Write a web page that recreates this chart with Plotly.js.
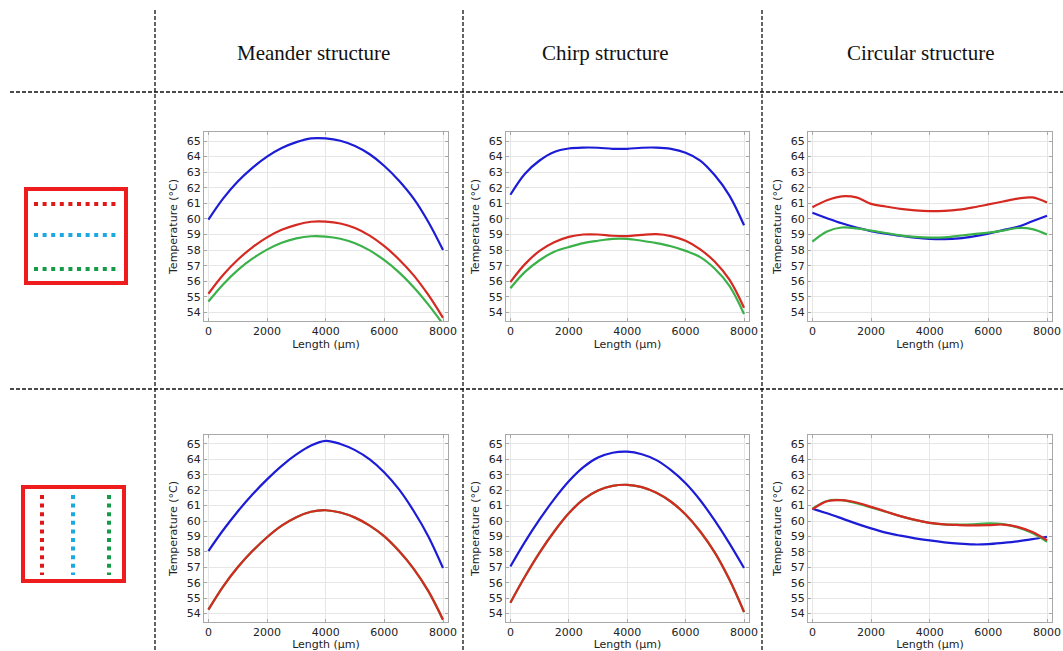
<!DOCTYPE html>
<html>
<head>
<meta charset="utf-8">
<script src="https://cdn.plot.ly/plotly-3.0.1.min.js"></script>
<style>
html,body{margin:0;padding:0;background:#fff;}
#chart{width:1063px;height:651px;}
</style>
</head>
<body>
<div id="chart"></div>
<script>
// ---- Data ----
const LENGTH_UM = [0,500,1000,1500,2000,2500,3000,3500,4000,4500,5000,5500,6000,6500,7000,7500,8000];

const COLUMN_TITLES = ["Meander structure", "Chirp structure", "Circular structure"];
const X_TICKS = [0, 2000, 4000, 6000, 8000];
const Y_TICKS = [54,55,56,57,58,59,60,61,62,63,64,65];

// Row 1: horizontal heater lines (red / blue / green)
const meanderH_blue  = [59.95,61.3,62.4,63.28,64.0,64.55,64.93,65.17,65.17,65.02,64.68,64.15,63.4,62.45,61.3,59.8,58.0];
const meanderH_red   = [55.2,56.4,57.38,58.18,58.82,59.3,59.62,59.82,59.83,59.71,59.42,58.93,58.25,57.4,56.38,55.12,53.65];
const meanderH_green = [54.7,55.8,56.72,57.45,58.03,58.47,58.75,58.89,58.87,58.73,58.44,57.98,57.35,56.57,55.62,54.5,53.25];

const chirpH_blue  = [61.55,62.9,63.75,64.3,64.52,64.58,64.57,64.5,64.5,64.57,64.58,64.5,64.25,63.75,62.8,61.5,59.6];
const chirpH_red   = [55.95,57.1,57.95,58.5,58.85,59.0,59.0,58.92,58.9,58.98,59.02,58.9,58.6,58.05,57.25,56.1,54.3];
const chirpH_green = [55.55,56.6,57.35,57.9,58.2,58.45,58.6,58.72,58.72,58.6,58.45,58.25,57.95,57.55,56.8,55.7,53.9];

const circularH_blue  = [60.4,60.05,59.72,59.45,59.22,59.05,58.92,58.8,58.72,58.7,58.75,58.88,59.06,59.28,59.5,59.85,60.2];
const circularH_red   = [60.75,61.2,61.45,61.38,60.97,60.8,60.65,60.55,60.5,60.52,60.6,60.75,60.93,61.12,61.3,61.38,61.05];
const circularH_green = [58.55,59.2,59.45,59.4,59.25,59.1,58.95,58.85,58.8,58.82,58.92,59.02,59.12,59.25,59.42,59.35,59.0];

// Row 2: vertical heater lines (green lies under red)
const meanderV_blue  = [58.05,59.4,60.62,61.72,62.7,63.58,64.32,64.9,65.2,65.0,64.6,64.0,63.15,62.05,60.65,59.0,56.95];
const meanderV_red   = [54.25,55.75,57.0,58.05,58.95,59.7,60.25,60.6,60.7,60.55,60.22,59.7,59.0,58.05,56.9,55.45,53.6];
const meanderV_green = [54.25,55.75,57.0,58.05,58.95,59.7,60.25,60.6,60.7,60.55,60.22,59.7,59.0,58.05,56.9,55.45,53.6];

const chirpV_blue  = [57.05,58.65,60.1,61.42,62.58,63.5,64.12,64.43,64.5,64.33,63.95,63.3,62.45,61.35,60.02,58.55,56.95];
const chirpV_red   = [54.7,56.4,57.95,59.32,60.5,61.4,61.98,62.28,62.35,62.2,61.83,61.25,60.42,59.32,57.95,56.2,54.1];
const chirpV_green = [54.7,56.4,57.95,59.32,60.5,61.4,61.98,62.28,62.35,62.2,61.83,61.25,60.42,59.32,57.95,56.2,54.1];

const circularV_blue  = [60.8,60.5,60.17,59.83,59.52,59.25,59.05,58.88,58.74,58.62,58.53,58.48,58.5,58.58,58.68,58.82,58.98];
const circularV_red   = [60.75,61.28,61.35,61.2,60.92,60.62,60.32,60.07,59.88,59.78,59.74,59.72,59.73,59.77,59.62,59.28,58.75];
const circularV_green = [60.8,61.3,61.35,61.15,60.88,60.6,60.32,60.07,59.88,59.78,59.76,59.78,59.85,59.8,59.58,59.22,58.65];

// ---- Styling / layout ----
const W = 1063, H = 651;
const BLUE = "#1c1cd6", RED = "#d42a22", GREEN = "#3bb14a";
const px = v => v / W;
const py = v => 1 - v / H;

const COL_X = [[204,448],[506,749],[808,1052]];
const ROW_Y = [[132,321],[435,622]];

const panels = [
  [meanderH_red, meanderH_green, meanderH_blue],
  [chirpH_red, chirpH_green, chirpH_blue],
  [circularH_red, circularH_green, circularH_blue],
  [meanderV_red, meanderV_green, meanderV_blue],
  [chirpV_red, chirpV_green, chirpV_blue],
  [circularV_red, circularV_green, circularV_blue]
];

const traces = [];
const layout = {
  width: W, height: H,
  margin: {l:0, r:0, t:0, b:0},
  paper_bgcolor: "#fff", plot_bgcolor: "#fff",
  showlegend: false,
  font: {family: "DejaVu Sans", color: "#222"},
  shapes: [], annotations: []
};

panels.forEach((p, i) => {
  const r = Math.floor(i / 3), c = i % 3;
  const n = i + 1;
  const xa = "x" + (n === 1 ? "" : n), ya = "y" + (n === 1 ? "" : n);
  const [red, green, blue] = p;
  // draw order: blue, green, red (red on top hides green in row 2)
  [[blue, BLUE], [green, GREEN], [red, RED]].forEach(([ys, col]) => {
    traces.push({
      x: LENGTH_UM, y: ys, xaxis: xa, yaxis: ya,
      type: "scatter", mode: "lines",
      line: {color: col, width: 2.2, shape: "spline", smoothing: 1},
      hoverinfo: "skip"
    });
  });
  const axCommon = {
    showline: true, linecolor: "#a8a8a8", linewidth: 1, mirror: "allticks",
    ticks: "inside", ticklen: 3, tickcolor: "#a8a8a8",
    showgrid: true, gridcolor: "#e6e6e6", gridwidth: 1, zeroline: false,
    tickfont: {family: "DejaVu Sans", size: 11, color: "#222"},
    fixedrange: true
  };
  layout["xaxis" + (n === 1 ? "" : n)] = Object.assign({}, axCommon, {
    domain: [px(COL_X[c][0]), px(COL_X[c][1])],
    anchor: ya, range: [-150, 8170],
    tickvals: X_TICKS, ticktext: X_TICKS.map(String),
    title: {text: "Length (µm)", font: {family: "DejaVu Sans", size: 11, color: "#222"}, standoff: 0}
  });
  layout["yaxis" + (n === 1 ? "" : n)] = Object.assign({}, axCommon, {
    domain: [py(ROW_Y[r][1]), py(ROW_Y[r][0])],
    anchor: xa, range: [53.45, 65.58],
    tickvals: Y_TICKS, ticktext: Y_TICKS.map(String),
    title: {text: "Temperature (°C)", font: {family: "DejaVu Sans", size: 11, color: "#222"}, standoff: 6}
  });
});

// Column titles
const TITLE_X = [313, 605, 921];
COLUMN_TITLES.forEach((t, i) => {
  layout.annotations.push({
    text: t, xref: "paper", yref: "paper",
    x: px(TITLE_X[i]), y: py(53), xanchor: "center", yanchor: "middle",
    showarrow: false,
    font: {family: "Liberation Serif", size: 21, color: "#111"}
  });
});

// Dashed table dividers
const dash = {color: "#111", width: 1.3, dash: "4px,2px"};
[155, 463, 762].forEach(x => layout.shapes.push({
  type: "line", xref: "paper", yref: "paper",
  x0: px(x), x1: px(x), y0: py(10), y1: py(651), line: dash
}));
[92, 389].forEach(y => layout.shapes.push({
  type: "line", xref: "paper", yref: "paper",
  x0: px(10), x1: px(1063), y0: py(y), y1: py(y), line: dash
}));

// Heater layout icons
const ICON_RED = "#ee1c1c", ICON_BLUE = "#1aa9e0", ICON_GREEN = "#159a48";
layout.shapes.push({type: "rect", xref: "paper", yref: "paper",
  x0: px(26), x1: px(126), y0: py(283), y1: py(189),
  line: {color: ICON_RED, width: 4}});
[[204, "#e01818"], [235, ICON_BLUE], [269, ICON_GREEN]].forEach(([y, col]) => {
  layout.shapes.push({type: "line", xref: "paper", yref: "paper",
    x0: px(34), x1: px(117), y0: py(y), y1: py(y),
    line: {color: col, width: 4, dash: "4px,4.6px"}});
});
layout.shapes.push({type: "rect", xref: "paper", yref: "paper",
  x0: px(23), x1: px(124), y0: py(581), y1: py(487),
  line: {color: ICON_RED, width: 4}});
[[42, "#e01818"], [73, ICON_BLUE], [109, ICON_GREEN]].forEach(([x, col]) => {
  layout.shapes.push({type: "line", xref: "paper", yref: "paper",
    x0: px(x), x1: px(x), y0: py(495), y1: py(575),
    line: {color: col, width: 4, dash: "4px,4.6px"}});
});

Plotly.newPlot("chart", traces, layout, {displayModeBar: false, staticPlot: true});
</script>
</body>
</html>
